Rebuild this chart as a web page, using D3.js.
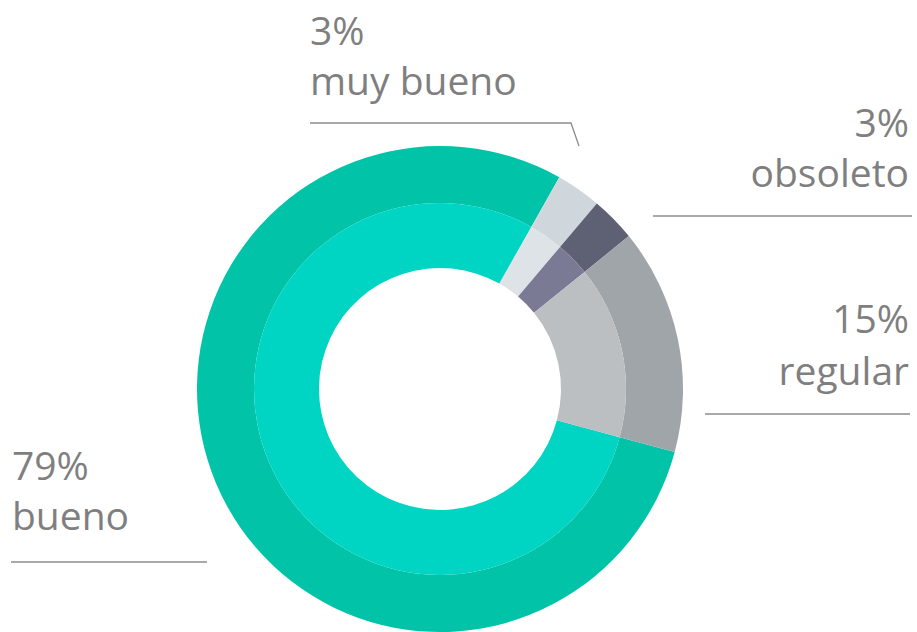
<!DOCTYPE html>
<html><head><meta charset="utf-8">
<script src="https://cdn.jsdelivr.net/npm/d3@7"></script>
<style>body{margin:0;background:#fff}text{font-family:"Open Sans","Liberation Sans",sans-serif}</style>
</head><body><svg id="c" width="917" height="632"></svg>
<script>
const categories = ["bueno", "muy bueno", "obsoleto", "regular"];
const values = [79, 3, 3, 15];
const pctLabels = ["79%", "3%", "3%", "15%"];
const outerColors = ["#00c3a8", "#d0d7dc", "#5e6074", "#9fa5a8"];
const innerColors = ["#00d4c3", "#dde3e6", "#7a7a94", "#bbbfc2"];

// label layout (positions, not data)
const labelLayout = [
  {x: 12, y1: 480, y2: 530, anchor: "start", line: [[11, 562], [207, 562]]},
  {x: 310, y1: 45, y2: 95, anchor: "start", line: [[310, 123], [571, 123], [579, 146]]},
  {x: 909, y1: 137, y2: 187, anchor: "end", line: [[653, 216], [912, 216]]},
  {x: 909, y1: 333, y2: 385, anchor: "end", line: [[705, 414], [910, 414]]}
];

const svg = d3.select("#c");
const cx = 440, cy = 389;
const R = 243, Rmid = 186, Rin = 121;
const g = svg.append("g").attr("transform", `translate(${cx},${cy})`);

const start = 105 * Math.PI / 180;
const pie = d3.pie().sort(null).value(d => d).startAngle(start).endAngle(start + 2 * Math.PI);
const arcs = pie(values);
const outerArc = d3.arc().innerRadius(Rmid).outerRadius(R);
const innerArc = d3.arc().innerRadius(Rin).outerRadius(Rmid);

g.selectAll("path.o").data(arcs).join("path").attr("class", "o")
  .attr("d", outerArc).attr("fill", (d, i) => outerColors[i]);
g.selectAll("path.i").data(arcs).join("path").attr("class", "i")
  .attr("d", innerArc).attr("fill", (d, i) => innerColors[i]);

const line = d3.line();
labelLayout.forEach((L, i) => {
  svg.append("text").attr("x", L.x).attr("y", L.y1).attr("text-anchor", L.anchor)
    .attr("fill", "#7f7f7f").attr("font-size", 39).text(pctLabels[i]);
  svg.append("text").attr("x", L.x).attr("y", L.y2).attr("text-anchor", L.anchor)
    .attr("fill", "#7f7f7f").attr("font-size", 39).text(categories[i]);
  svg.append("path").attr("d", line(L.line)).attr("fill", "none")
    .attr("stroke", "#8c8c8c").attr("stroke-width", 1.3);
});
</script></body></html>
